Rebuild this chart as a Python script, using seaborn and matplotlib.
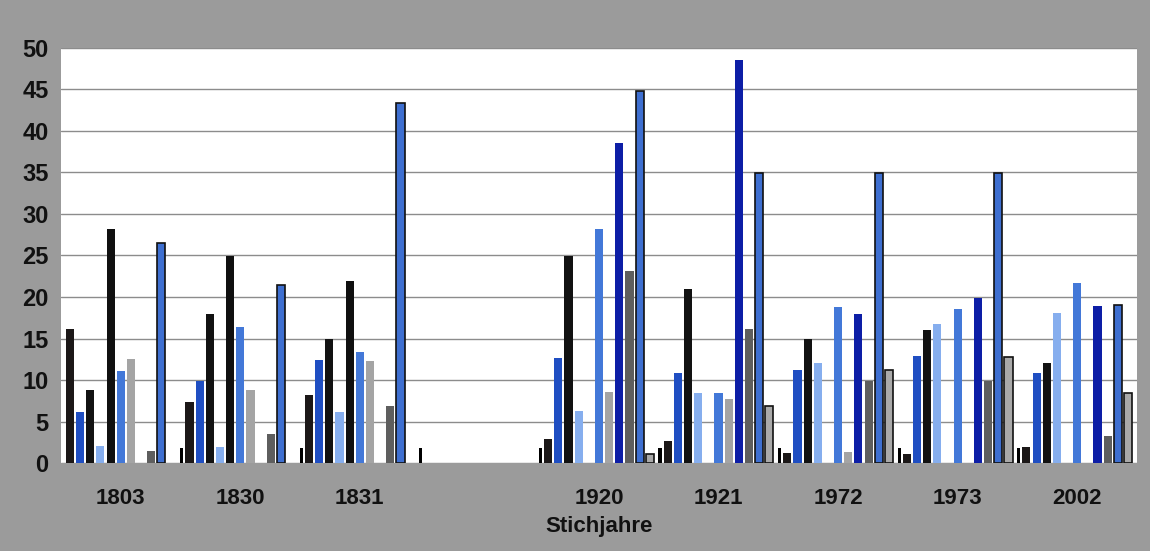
import numpy as np
import pandas as pd
import matplotlib
matplotlib.use("Agg")
import matplotlib.pyplot as plt
import seaborn as sns

# ---- data -------------------------------------------------------------
years = ["1803", "1830", "1831", "", "1920", "1921", "1972", "1973", "2002"]
series = ["R1", "R2", "R3", "R4", "R5", "R6", "R7", "R8", "R9", "R10", "R11"]

r1 = [16.2, 7.4, 8.2, 0, 2.9, 2.7, 1.2, 1.1, 1.9]
r2 = [6.2, 9.9, 12.4, 0, 12.7, 10.9, 11.2, 12.9, 10.8]
r3 = [8.8, 18.0, 14.9, 0, 24.9, 21.0, 14.9, 16.0, 12.0]
r4 = [2.1, 1.9, 6.2, 0, 6.3, 8.4, 12.0, 16.8, 18.1]
r5 = [28.2, 24.9, 21.9, 0, 0, 0, 0, 0, 0]
r6 = [11.1, 16.4, 13.4, 0, 28.2, 8.4, 18.8, 18.5, 21.7]
r7 = [12.5, 8.8, 12.3, 0, 8.6, 7.7, 1.3, 0, 0]
r8 = [0, 0, 0, 0, 38.5, 48.6, 17.9, 19.9, 18.9]
r9 = [1.5, 3.5, 6.9, 0, 23.1, 16.2, 9.9, 9.9, 3.2]
r10 = [26.5, 21.5, 43.4, 0, 44.8, 34.9, 34.9, 34.9, 19.0]
r11 = [0, 0, 0, 0, 1.1, 6.9, 11.2, 12.8, 8.4]
# thin marker series drawn after each group
thin = [1.8, 1.8, 1.8, 1.8, 1.8, 1.8, 1.8, 1.8, 0]

yticks = [0, 5, 10, 15, 20, 25, 30, 35, 40, 45, 50]
xlabel = "Stichjahre"

values = [r1, r2, r3, r4, r5, r6, r7, r8, r9, r10, r11]

# ---- styles -----------------------------------------------------------
colors = ["#1c1818", "#1f4ec2", "#121212", "#86aeee", "#101010", "#4378d8",
          "#a4a4a4", "#0d1ea6", "#5e5e5e", "#3e6fd0", "#a9a9a9"]
outlined = {"R10", "R11"}

df = pd.DataFrame({
    "Jahr": np.repeat([years], len(series), axis=0).ravel(),
    "Reihe": np.repeat(series, len(years)),
    "Wert": np.concatenate(values),
})

sns.set_theme(style="white")
font = ["Liberation Sans", "DejaVu Sans"]
plt.rcParams["font.family"] = font

fig = plt.figure(figsize=(11.5, 5.51), dpi=100)
fig.patch.set_facecolor("#9b9b9b")
ax = fig.add_axes([0.053, 0.1597, 0.9357, 0.7532])
ax.set_facecolor("white")

group_w = 0.935
sns.barplot(data=df, x="Jahr", y="Wert", hue="Reihe", order=years,
            hue_order=series, palette=colors, saturation=1, width=group_w,
            gap=0.2, legend=False, ax=ax, errorbar=None, linewidth=0)

for name, cont in zip(series, ax.containers):
    for patch in cont:
        if name in outlined and patch.get_height() > 0:
            patch.set_edgecolor("#111111")
            patch.set_linewidth(1.2)
        else:
            patch.set_edgecolor("none")
            patch.set_linewidth(0)

slot = group_w / len(series)
ax.bar(np.arange(len(years)) + 6 * slot, thin, width=0.026,
       color="#000000", linewidth=0, zorder=3)

ax.set_xlim(-0.5, len(years) - 0.5)
ax.set_ylim(0, 50)
ax.set_yticks(yticks)
ax.yaxis.grid(True, color="#8c8c8c", linewidth=1.0)
ax.set_axisbelow(True)
for s in ax.spines.values():
    s.set_visible(False)

ax.tick_params(axis="y", length=0, pad=9, labelsize=17)
ax.tick_params(axis="x", length=0, pad=18, labelsize=16)
for lab in ax.get_yticklabels() + ax.get_xticklabels():
    lab.set_fontweight("bold")
    lab.set_color("#111111")

ax.set_ylabel("")
ax.set_xlabel(xlabel, fontsize=16, fontweight="bold", color="#111111",
              labelpad=5)

fig.savefig("out.png", dpi=100, facecolor=fig.get_facecolor())
